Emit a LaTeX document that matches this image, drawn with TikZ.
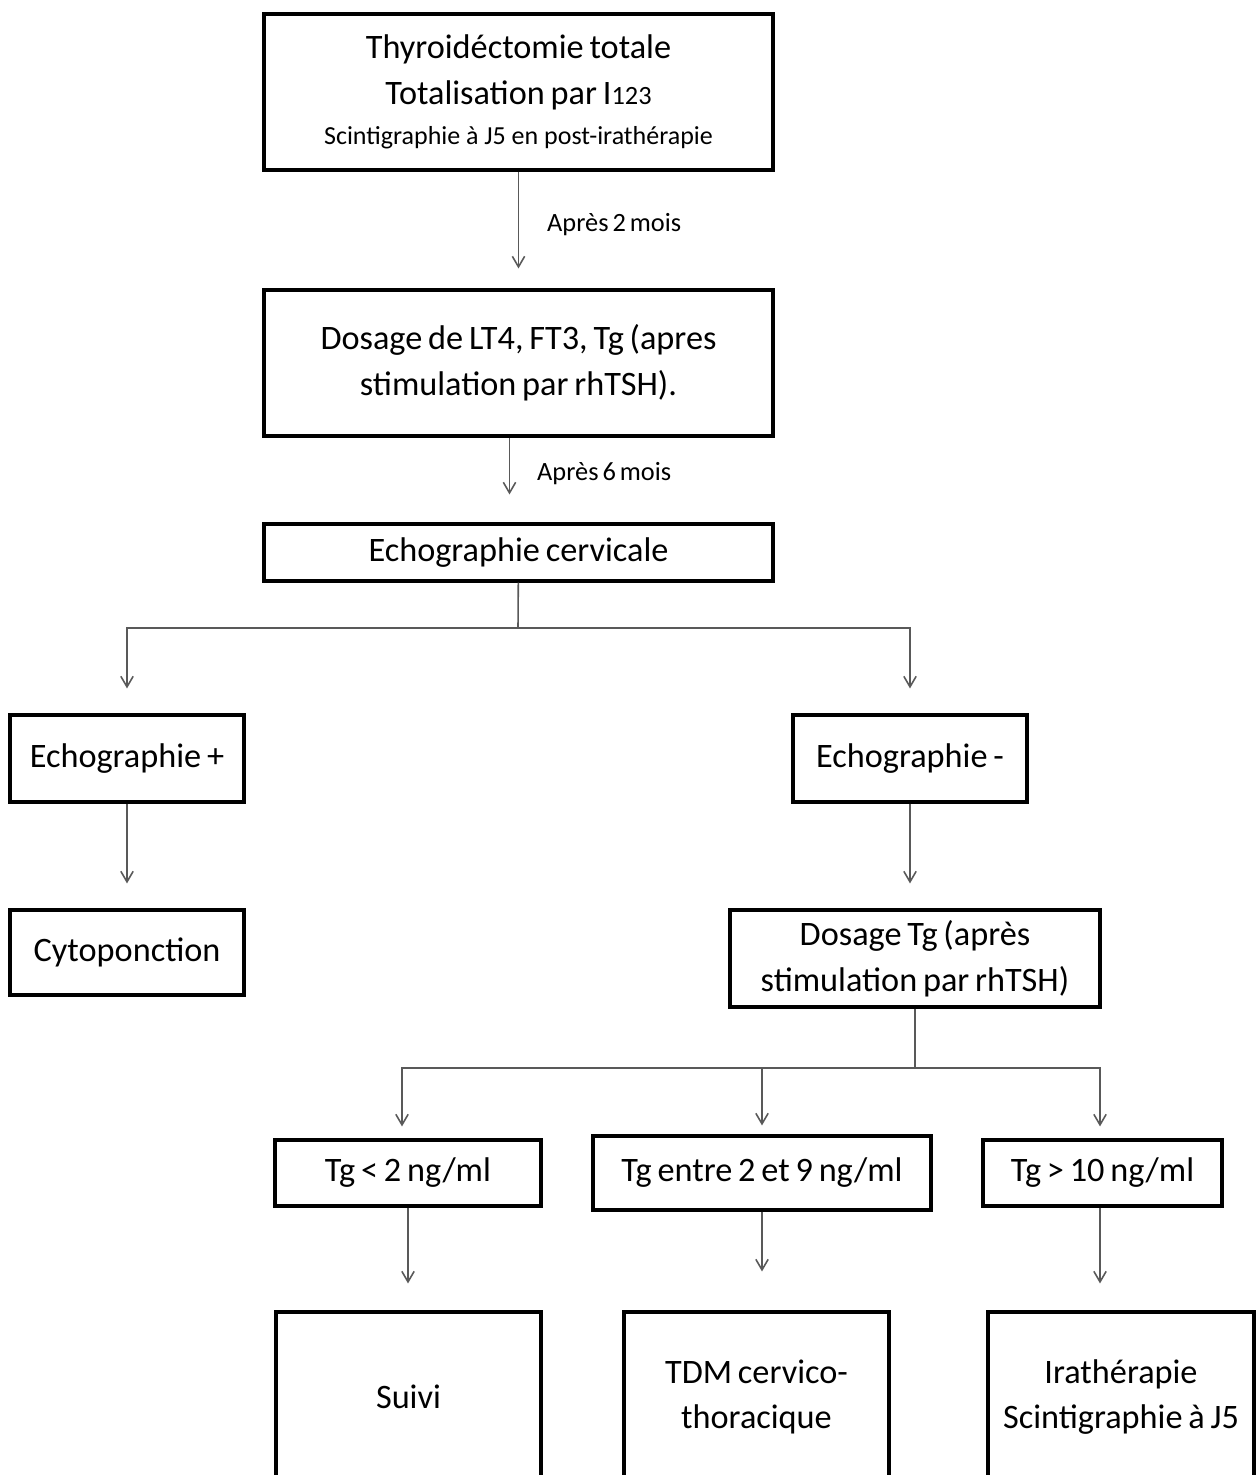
\documentclass[tikz,border=0pt]{standalone}
\usepackage{fontspec}
\setmainfont{Carlito}
\usetikzlibrary{arrows.meta}
\newcommand\boxfont{\fontsize{19.5}{26}\selectfont\spaceskip 0.17em plus 0.05em\relax}
\newcommand\lblfont{\fontsize{15}{17}\selectfont\spaceskip 0.15em\relax}

\begin{document}
\begin{tikzpicture}[x=0.02cm, y=-0.02cm,
    box/.style={draw, line width=1.8pt, align=center, inner sep=0pt, font=\boxfont},
    conn/.style={draw=black!65, line width=0.9pt},
    arr/.style={conn, -{Straight Barb[length=6pt,width=7pt]}},
    lbl/.style={anchor=west, font=\lblfont}]
  \useasboundingbox (0,0) rectangle (1257,1475);

  % top of the chart
  \node[box, minimum width=10.18cm, minimum height=3.12cm] (thyro) at (518.5,92)
    {Thyroidéctomie totale\\Totalisation par I{\fontsize{15}{15}\selectfont 123}\\[-3pt]
     {\fontsize{14.8}{20}\selectfont Scintigraphie à J5 en post-irathérapie}};
  \node[box, minimum width=10.18cm, minimum height=2.92cm] (dosage) at (518.5,363)
    {Dosage de LT4, FT3, Tg (apres\\stimulation par rhTSH).};
  \node[box, minimum width=10.18cm, minimum height=1.14cm] (echo) at (518.5,552.5)
    {Echographie cervicale};

  % two branches
  \node[box, minimum width=4.68cm, minimum height=1.74cm] (echop) at (127,758.5) {Echographie +};
  \node[box, minimum width=4.68cm, minimum height=1.74cm] (echom) at (910,758.5) {Echographie -};
  \node[box, minimum width=4.68cm, minimum height=1.70cm] (cyto) at (127,952.5) {Cytoponction};
  \node[box, minimum width=7.40cm, minimum height=1.94cm] (dostg) at (915,958.5)
    {Dosage Tg (après\\stimulation par rhTSH)};

  % results of Tg
  \node[box, minimum width=5.32cm, minimum height=1.32cm] (tgbas) at (408,1173) {Tg < 2 ng/ml};
  \node[box, minimum width=6.76cm, minimum height=1.48cm] (tgmoy) at (762,1173) {Tg entre 2 et 9 ng/ml};
  \node[box, minimum width=4.78cm, minimum height=1.32cm] (tghaut) at (1102.5,1173) {Tg > 10 ng/ml};
  \node[box, minimum width=5.30cm, minimum height=3.40cm] (suivi) at (408.5,1397) {Suivi};
  \node[box, minimum width=5.30cm, minimum height=3.40cm] (tdm) at (756.5,1397) {TDM cervico-\\thoracique};
  \node[box, minimum width=5.32cm, minimum height=3.40cm] (irath) at (1121,1397)
    {Irathérapie\\Scintigraphie à J5};

  \coordinate (fork1) at (518,628);
  \coordinate (fork2) at (915,1068);

  % connectors
  \draw[arr, shorten >=0.4cm] (thyro) -- (dosage);
  \node[lbl] (apres2) at (541,225) {Après 2 mois};
  \draw[arr, shorten >=0.56cm] ([xshift=-0.18cm]dosage.south) -- ([xshift=-0.18cm]echo.north);
  \node[lbl] (apres6) at (531,474) {Après 6 mois};

  \draw[conn] (echo) -- (fork1);
  \draw[arr, shorten >=0.5cm] (fork1) -| (echop.north);
  \draw[arr, shorten >=0.5cm] (fork1) -| (echom.north);
  \draw[arr, shorten >=0.5cm] (echop) -- (cyto);
  \draw[arr, shorten >=0.5cm] (echom) -- (echom |- dostg.north);

  \draw[conn] (dostg) -- (fork2);
  \draw[arr, shorten >=0.24cm] (fork2) -| ([xshift=-0.12cm]tgbas.north);
  \draw[arr, shorten >=0.18cm] (fork2) -| (tgmoy.north);
  \draw[arr, shorten >=0.24cm] (fork2) -| ([xshift=-0.05cm]tghaut.north);

  \draw[arr, shorten >=0.54cm] (tgbas) -- (tgbas |- suivi.north);
  \draw[arr, shorten >=0.78cm] (tgmoy) -- (tgmoy |- tdm.north);
  \draw[arr, shorten >=0.54cm] ([xshift=-0.05cm]tghaut.south) -- ([xshift=-0.05cm]tghaut.south |- irath.north);
\end{tikzpicture}
\end{document}
